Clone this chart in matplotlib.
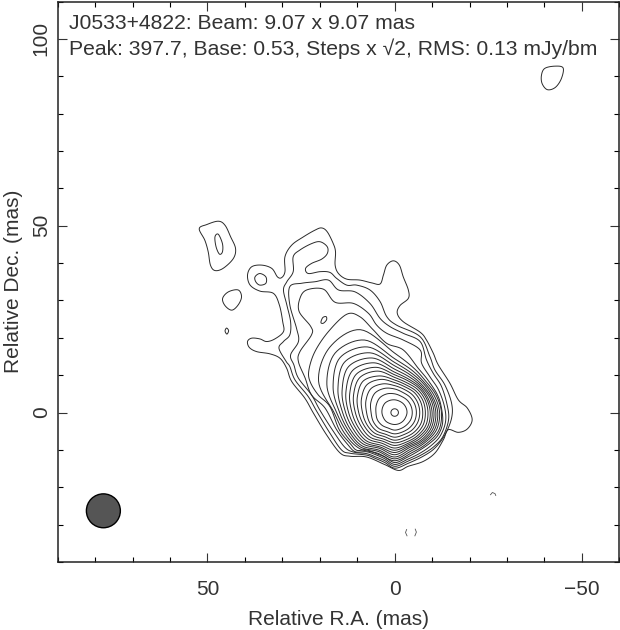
import numpy as np
import matplotlib
matplotlib.use("Agg")
import matplotlib.pyplot as plt
from matplotlib.patches import Ellipse
from matplotlib.ticker import MultipleLocator

plt.rcParams['font.family'] = ['Liberation Sans', 'DejaVu Sans']
plt.rcParams['path.simplify'] = False

### contour outlines, (RA, Dec) in mas
c0_x = [-1.0,2.6,7.5,11.9,14.6,18.2,21.7,24,27.5,28.85,30.6,33.3,36.85,38.8,39.3,38.2,36,34.2,32,29.7,29.9,30.8,32.4,36,38.6,39.3,38.2,35.5,32.8,31.3,30.2,29.3,29.3,27.5,24.4,21.3,19.5,18,16.4,15.8,15.9,15,12.8,9.3,6.15,3.9,3,2.1,0.35,-1.25,-2.3,-3.65,-3.65,-1.4,-0.7,-2.3,-6.8,-8.5,-10.3,-11.65,-14.75,-17,-19.4,-20.7,-19.4,-17,-14.3,-13,-10.75,-7.6,-3.6]
c0_y = [-15.5,-13.95,-11.9,-11.7,-10.8,-5.95,-0.16,3.85,8.3,11.85,14.5,15.7,16.3,17.4,19,19.9,19.7,19,19.7,21.65,24.3,28.8,31.9,32.5,34.1,36.8,39,39.45,38.55,36.3,36.1,37.7,41.7,44.8,47,48.8,49.4,48.35,45.2,43,39.45,37.2,35.7,35.45,34.7,34.4,36.8,39.45,40.6,39.45,36.3,32.8,30.55,28.6,26.55,24.3,21.5,19.4,15.9,12.75,7.85,3.4,1.2,-1.9,-4.4,-5.3,-4.6,-7.3,-10.85,-13.1,-14.4]

c1_x = [-0.1,2.6,5.1,7.5,11.9,14.2,17.3,20.8,23.1,26.6,28,29,30.9,29.7,28,27.8,28.8,29.7,28.8,27.1,27.1,25.3,22.2,19.9,18,18,19.5,22.2,23.8,23.05,19.9,17.3,15.5,12.8,10.15,6.6,3.9,2.1,-0.5,-6.8,-9.4,-10.75,-13.4,-15.2,-15.2,-13.4,-10.75,-7.6,-3.6]
c1_y = [-14.9,-13.4,-12.3,-11.4,-10.9,-10,-5.5,0.3,4.3,8.7,12.3,13.7,17.2,19,20.8,24.3,28.8,32.8,35,37.7,41.7,43.5,45.2,45.7,44.35,42.55,41.05,39.9,38.55,37.2,37.7,37.5,35.9,34.1,34.1,32.8,29.7,25.65,23.4,20.3,15,11.4,7.4,2.5,-1.5,-6,-9.5,-11.7,-13.6]

c2_x = [-0.1,2.6,5,7.5,10.9,13.3,16.4,20,22.2,25.7,26.9,27.8,25.7,26.2,28,28,24.8,21.3,17.7,15,10.6,6.6,3.9,1.25,-2.3,-6.8,-8.5,-10.3,-12.5,-14,-14.4,-12.9,-10.4,-7.2,-3.6]
c2_y = [-14.4,-12.9,-11.9,-11,-10.6,-9.3,-5,0.7,4.7,9.2,12.7,15.4,19,22.5,28.8,33.7,34.6,35,35.45,32.8,32.3,29.2,25.2,23,21.2,19,14.1,10.5,7,2.1,-1.9,-6.4,-9.2,-11.3,-13]

c3_x = [-0.1,2.6,4.8,7.5,10.5,12.5,15.5,18.6,22.2,23.9,25.7,25.3,22.2,22.4,25.5,25.3,23.5,19,15.9,11,7,4.8,2.1,-2.3,-6.8,-7.2,-9.4,-11.7,-13.3,-13.6,-12.2,-9.9,-6.9,-3.5]
c3_y = [-13.9,-12.4,-11.4,-10.5,-10.5,-8.6,-4.6,1.2,4.7,9.2,13.6,16.3,20.8,23,27,30.55,32.8,33,29.5,29.2,26.55,23.4,21.2,19.4,16.75,13.2,9.6,6.1,1.6,-2.4,-6.2,-8.7,-10.8,-12.5]

c4_x = [-0.1,2.6,4.6,7.5,10.1,11.8,14.8,17.3,20.4,22.6,22.9,21.3,17.7,12.8,9.3,5.7,2.1,-2.3,-6.3,-8.8,-11.4,-12.5,-12.8,-11.6,-9.4,-6.5,-3.3]
c4_y = [-13.4,-11.9,-11.1,-10,-10.1,-8.4,-4.6,1.6,4.7,8.3,11.4,16.3,21.65,26.3,25.65,22.1,18.5,16.75,11.85,8.8,4.8,1.2,-2.8,-6,-8.2,-10.2,-12]

# rest of the contours go round the core, radius (mas) every 22.5 deg from +x side
ring_angles = [0,22.5,45,67.5,90,112.5,135,157.5,180,202.5,225,247.5,270,292.5,315,337.5]
c5_r  = [12.5,12,11.8,13,15.9,24,24.6,22,16.2,14.5,13.5,11.8,12.9,11.7,11.9,12.7]
c6_r  = [12,11.5,11.3,12.2,14.4,21,22.5,19.6,15.5,13.8,13,11.3,12.4,11.2,11.4,12.1]
c7_r  = [11.5,11,10.9,11.5,13.4,19,20.7,17.8,14.7,13.2,12.5,10.9,11.9,10.7,11,11.6]
c8_r  = [11,10.6,10.4,10.9,12.5,17.3,19,16.4,13.9,12.6,11.9,10.4,11.3,10.2,10.6,11.1]
c9_r  = [10.5,10.2,10,10.3,11.6,15.8,17.4,15.2,13.1,11.9,11.3,10,10.7,9.8,10.2,10.6]
c10_r = [10,9.7,9.6,9.7,10.8,14.4,15.9,14.1,12.3,11.2,10.7,9.5,10.1,9.4,9.7,10.1]
c11_r = [9.5,9.3,9.2,9.2,10.1,13.1,14.5,13,11.4,10.5,10,8.9,9.5,9,9.2,9.6]
c12_r = [8.9,8.8,8.7,8.6,9.4,12,13.2,11.9,10.5,9.7,9.3,8.3,8.8,8.5,8.7,9]
c13_r = [8.2,8.2,8.1,8,8.7,10.6,11.9,10.8,9.6,8.9,8.5,7.7,8.1,7.9,8.1,8.3]
c14_r = [7.5,7.5,7.5,7.4,8,9.6,10.5,9.6,8.6,8.1,7.7,7,7.4,7.2,7.4,7.6]
c15_r = [6.7,6.7,6.7,6.7,7.2,8.3,9,8.3,7.5,7.2,6.9,6.3,6.6,6.4,6.6,6.7]
c16_r = [5.8,5.8,5.8,5.8,6.3,7,7.4,6.9,6.3,6.2,6,5.5,5.7,5.6,5.7,5.8]
c17_r = [4.7,4.7,4.7,4.7,5,5.4,5.6,5.3,5,5,4.8,4.5,4.7,4.6,4.6,4.7]
c18_r = [3.3,3.3,3.3,3.3,3.4,3.5,3.6,3.5,3.4,3.3,3.3,3.2,3.2,3.2,3.2,3.2]
c19_r = [1.0,1.0,1.0,1.0,1.0,1.0,1.0,1.0,1.0,1.0,1.0,1.0,1.0,1.0,1.0,1.0]

# islands
isl_nw_x = [52.2,50.2,47.1,45.3,43.8,42.5,43.1,45.8,48,49.2,49.8,50.7]
isl_nw_y = [49.2,50.3,51.2,50.1,47,43.9,41.2,38.6,38,39.45,43,46.1]
isl_nw2_x = [48,47.1,46,46,46.8,47.7]
isl_nw2_y = [47,47.7,45.2,43,42.4,44.35]
isl_lobe_x = [37.3,36,34.4,34.4,36,37.1]
isl_lobe_y = [36.3,37.2,36.3,34.6,34.1,35]
isl_blob_x = [45.95,44.4,41.8,40.9,41.8,43.5,45.3]
isl_blob_y = [30.55,32.3,32.8,31,28.8,27.4,28.6]
isl_tiny_x = [45.3,44.9,44.35,44.8]
isl_tiny_y = [21.8,22.6,21.9,21]
isl_in_x = [19.7,19.2,18.3,18.2,19.05]
isl_in_y = [24.1,25.4,25.65,24.8,23.9]
isl_ne_x = [-39.2,-40.1,-42.9,-45,-44.5,-42.9,-40.8,-39.4]
isl_ne_y = [90.2,92.1,92.7,92.2,89.3,87,86.4,88]

# bits that are just broken arcs
arc_a_x = [-25.6,-26.1,-26.8,-27]
arc_a_y = [-22,-21.4,-21.7,-22.2]
arc_b_x = [-3.2,-2.9,-3.3]
arc_b_y = [-31.3,-32.1,-33]
arc_c_x = [-5.5,-5.8,-5.4]
arc_c_y = [-31.2,-32,-33]

beam_x = 77.8
beam_y = -26.3
beam_size = 9.07

title1 = "J0533+4822: Beam: 9.07 x 9.07 mas"
title2 = "Peak: 397.7, Base: 0.53, Steps x √2, RMS: 0.13 mJy/bm"


def smooth_closed(x, y, n=10):
    # closed catmull-rom through the read points
    p = np.column_stack([x, y])
    out = []
    m = len(p)
    for i in range(m):
        p0, p1, p2, p3 = p[i-1], p[i], p[(i+1)%m], p[(i+2)%m]
        for t in np.linspace(0, 1, n, endpoint=False):
            out.append(0.5*((2*p1) + (p2-p0)*t + (2*p0-5*p1+4*p2-p3)*t**2 + (3*p1-p0-3*p2+p3)*t**3))
    out.append(out[0])
    out = np.array(out)
    return out[:, 0], out[:, 1]


fig = plt.figure(figsize=(6.2, 6.3), dpi=100)
ax = fig.add_axes([57.7/620, 1-562/630, (619.3-57.7)/620, (562-1.5)/630])

line = dict(color="#2a2a2a", lw=0.7, solid_capstyle="butt")

for cx, cy in [(c0_x, c0_y), (c1_x, c1_y), (c2_x, c2_y), (c3_x, c3_y), (c4_x, c4_y),
               (isl_nw_x, isl_nw_y), (isl_nw2_x, isl_nw2_y), (isl_lobe_x, isl_lobe_y),
               (isl_blob_x, isl_blob_y), (isl_tiny_x, isl_tiny_y), (isl_in_x, isl_in_y),
               (isl_ne_x, isl_ne_y)]:
    sx, sy = smooth_closed(cx, cy)
    ax.plot(sx, sy, **line)

th = np.deg2rad(ring_angles)
for r in [c5_r, c6_r, c7_r, c8_r, c9_r, c10_r, c11_r, c12_r, c13_r, c14_r, c15_r, c16_r, c17_r, c18_r, c19_r]:
    r = np.array(r)
    # +x on the image is towards negative RA
    sx, sy = smooth_closed(-r*np.cos(th), r*np.sin(th))
    ax.plot(sx, sy, **line)

for cx, cy in [(arc_a_x, arc_a_y), (arc_b_x, arc_b_y), (arc_c_x, arc_c_y)]:
    ax.plot(cx, cy, color="#555555", lw=0.6)

ax.add_patch(Ellipse((beam_x, beam_y), beam_size, beam_size, facecolor="#555555", edgecolor="black", lw=1.0))

ax.set_xlim(90, -60)
ax.set_ylim(-40, 110)

ax.xaxis.set_major_locator(MultipleLocator(50))
ax.xaxis.set_minor_locator(MultipleLocator(10))
ax.yaxis.set_major_locator(MultipleLocator(50))
ax.yaxis.set_minor_locator(MultipleLocator(10))
ax.tick_params(which="major", direction="in", length=6.5, width=0.8, top=True, right=True, labelsize=15, colors="#333333")
ax.tick_params(which="minor", direction="in", length=3.6, width=0.8, top=True, right=True)
ax.tick_params(axis="x", which="major", pad=13)
ax.tick_params(axis="y", which="major", pad=5)
for lab in ax.get_yticklabels():
    lab.set_rotation(90)
    lab.set_va("center")
for s in ax.spines.values():
    s.set_linewidth(1.1)
    s.set_color("#222222")

ax.set_xlabel("Relative R.A. (mas)", fontsize=15, labelpad=8, color="#333333")
ax.set_ylabel("Relative Dec. (mas)", fontsize=15, labelpad=6, color="#333333", y=0.5)

ax.text(87, 104.2, title1, fontsize=15.2, va="center", ha="left", color="#333333")
ax.text(87, 97.5, title2, fontsize=15.2, va="center", ha="left", color="#333333")

fig.savefig("out.png", dpi=100)
